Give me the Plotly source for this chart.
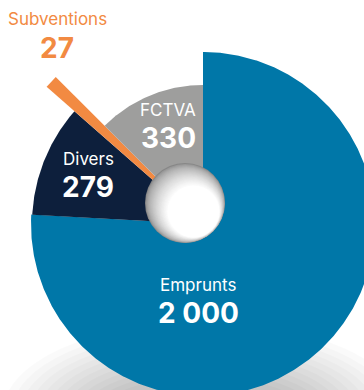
import numpy as np
import plotly.graph_objects as go

# ---- data ----
categories = ["Emprunts", "Divers", "Subventions", "FCTVA"]
values = [2000, 279, 27, 330]
value_labels = ["2 000", "279", "27", "330"]

# ---- style ----
colors = ["#0077A8", "#0D1F3C", "#F28A42", "#9E9E9D"]
radii = [172, 171, 208, 139]          # outer radius of each wedge (px units)
label_pos = {                          # (screen x, screen y of the split between label and value)
    "Emprunts": (198, 295),
    "Divers": (88, 169),
    "Subventions": (57, 30),
    "FCTVA": (168, 120),
}
label_colors = {"Emprunts": "white", "Divers": "white", "FCTVA": "white", "Subventions": "#F28A42"}
W, H = 364, 390
CX, CY = 203, 224          # screen position of pie vertex
FONT = "Inter"


def sx(x):
    return x - CX


def sy(y):
    return CY - y


fig = go.Figure()

total = float(sum(values))
cum = 0.0
for cat, v, col, r in zip(categories, values, colors, radii):
    a0 = cum / total * 2 * np.pi
    cum += v
    a1 = cum / total * 2 * np.pi
    th = np.linspace(a0, a1, max(8, int((a1 - a0) * 120)))
    xs = np.concatenate([[0], r * np.sin(th), [0]])
    ys = np.concatenate([[0], r * np.cos(th), [0]])
    fig.add_trace(go.Scatter(x=xs, y=ys, fill="toself", mode="lines",
                             line=dict(width=0, color=col), fillcolor=col,
                             hoverinfo="skip", showlegend=False, name=cat))

shapes = []
# soft drop shadow under the disc
ecx, ecy = sx(203), sy(412)
for i in range(12):
    rx = 200 - i * 9
    ry = 90 - i * 5
    shapes.append(dict(type="circle", xref="x", yref="y", layer="below",
                       x0=ecx - rx, x1=ecx + rx, y0=ecy - ry, y1=ecy + ry,
                       fillcolor="rgba(0,0,0,0.02)", line=dict(width=0)))

# shaded centre ball
bcx, bcy, R = sx(185), sy(203), 40
ux, uy = 0.707, -0.707
n = 24
for i in range(n):
    t = i / (n - 1)
    r = R - 14 * t
    d = (R - r) * 0.85
    cxi, cyi = bcx + d * ux, bcy + d * uy
    g = int(135 + (255 - 135) * t ** 0.6)
    shapes.append(dict(type="circle", xref="x", yref="y", layer="above",
                       x0=cxi - r, x1=cxi + r, y0=cyi - r, y1=cyi + r,
                       fillcolor=f"rgb({g},{g},{g})", line=dict(width=0)))

annotations = []
for cat, vl in zip(categories, value_labels):
    px, py = label_pos[cat]
    c = label_colors[cat]
    annotations.append(dict(x=sx(px), y=sy(py), xref="x", yref="y", text=cat,
                            yanchor="bottom", yshift=0.5, showarrow=False,
                            borderpad=0, borderwidth=0,
                            font=dict(family=FONT, size=17, color=c)))
    annotations.append(dict(x=sx(px), y=sy(py), xref="x", yref="y", text=f"<b>{vl}</b>",
                            yanchor="top", yshift=-0.5, showarrow=False,
                            borderpad=0, borderwidth=0,
                            font=dict(family=FONT, size=28, color=c)))

fig.update_layout(
    width=W, height=H, margin=dict(l=0, r=0, t=0, b=0),
    paper_bgcolor="white", plot_bgcolor="white",
    xaxis=dict(range=[sx(0), sx(W)], visible=False, fixedrange=True),
    yaxis=dict(range=[sy(H), sy(0)], visible=False, fixedrange=True),
    shapes=shapes, annotations=annotations, showlegend=False,
)

fig.write_html("out.html", config={"displayModeBar": False})
